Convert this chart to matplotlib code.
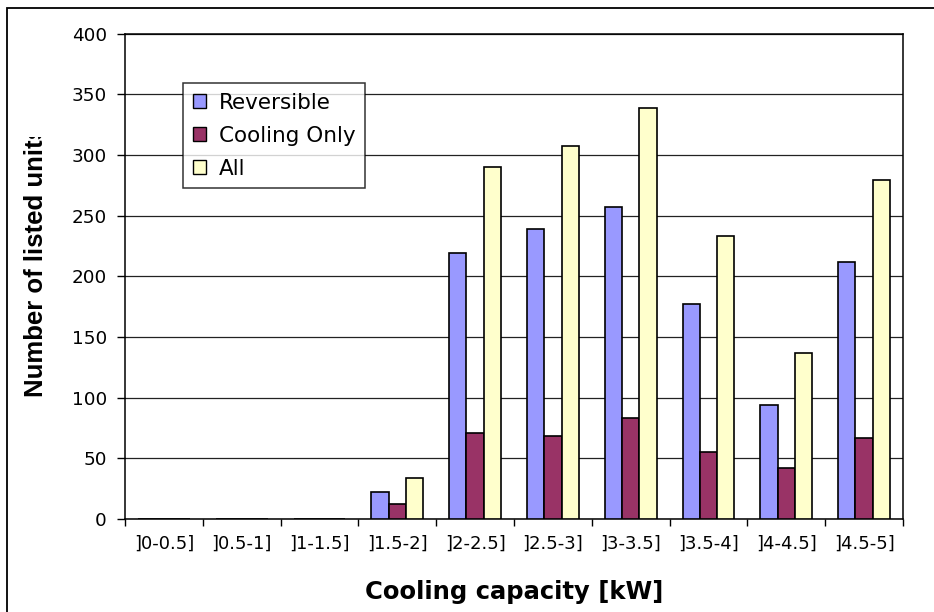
import numpy as np
import matplotlib
matplotlib.use("Agg")
import matplotlib.pyplot as plt
from matplotlib.patches import Rectangle
from matplotlib.transforms import Bbox

categories = ["]0-0.5]", "]0.5-1]", "]1-1.5]", "]1.5-2]", "]2-2.5]",
              "]2.5-3]", "]3-3.5]", "]3.5-4]", "]4-4.5]", "]4.5-5]"]
reversible = [0, 0, 0, 22, 219, 239, 257, 177, 94, 212]
cooling_only = [0, 0, 0, 12, 71, 68, 83, 55, 42, 67]
all_units = [0, 0, 0, 34, 290, 307, 339, 233, 137, 279]

series = [
    ("Reversible", reversible, "#9999FF"),
    ("Cooling Only", cooling_only, "#993366"),
    ("All", all_units, "#FFFFCC"),
]

plt.rcParams.update({
    "font.family": ["DejaVu Sans"],
    "font.size": 13,
})

W, H = 934, 612
fig = plt.figure(figsize=(W / 100, H / 100), dpi=100)
ax = fig.add_axes([125 / W, (H - 519) / H, (903 - 125) / W, (519 - 33.6) / H])

x = np.arange(len(categories))
bar_w = 1 / 4.5
for i, (name, vals, color) in enumerate(series):
    ax.bar(x + (i - 1) * bar_w, vals, width=bar_w, color=color,
           edgecolor="black", linewidth=1.2, label=name, zorder=3)

ax.set_xlim(-0.5, len(categories) - 0.5)
ax.set_ylim(0, 400)
ax.set_yticks(np.arange(0, 401, 50))
# category boundaries get the tick marks, names sit between them
ax.set_xticks(np.arange(len(categories) + 1) - 0.5)
ax.set_xticklabels([])
ax.set_xticks(x, minor=True)
ax.set_xticklabels(categories, minor=True, fontsize=13)
ax.tick_params(axis="x", which="major", direction="out", length=5, width=1)
ax.tick_params(axis="x", which="minor", length=0, pad=11)
ax.tick_params(axis="y", direction="out", length=6, width=1, pad=7,
               labelsize=13.2)

ax.yaxis.grid(True, color="#222222", linewidth=0.9, zorder=0)
ax.set_axisbelow(True)
for side in ax.spines.values():
    side.set_linewidth(1.1)
    side.set_color("black")

ax.set_xlabel("Cooling capacity [kW]", fontsize=17.5, fontweight="bold",
              labelpad=20)

# y title is cut off at the top edge of its box
ylab = fig.text(36 / W, (H - 397) / H, "Number of listed units",
                rotation=90, ha="center", va="bottom",
                fontsize=18.5, fontweight="bold",
                family=["Liberation Sans", "DejaVu Sans"])
ylab.set_clip_box(Bbox.from_extents(0, 0, W, H - 137))
ylab.set_clip_on(True)

leg = ax.legend(loc="upper left",
                bbox_to_anchor=((183 - 125) / (903 - 125), (519 - 83) / (519 - 33.6)),
                frameon=True, fancybox=False, fontsize=15.5, handlelength=0.6,
                handleheight=0.6, handletextpad=0.6, labelspacing=0.6,
                borderpad=0.45, borderaxespad=0)
leg.get_frame().set_edgecolor("black")
leg.get_frame().set_linewidth(1.1)
leg.set_zorder(5)
for h in leg.legend_handles:
    h.set_linewidth(1.0)

# outer chart border running off the right and bottom edges
fig.patches.append(Rectangle((7 / W, -0.1), 1.2, (H - 8) / H + 0.1,
                             transform=fig.transFigure, fill=False,
                             edgecolor="black", linewidth=1.3))

fig.savefig("out.png", dpi=100)
